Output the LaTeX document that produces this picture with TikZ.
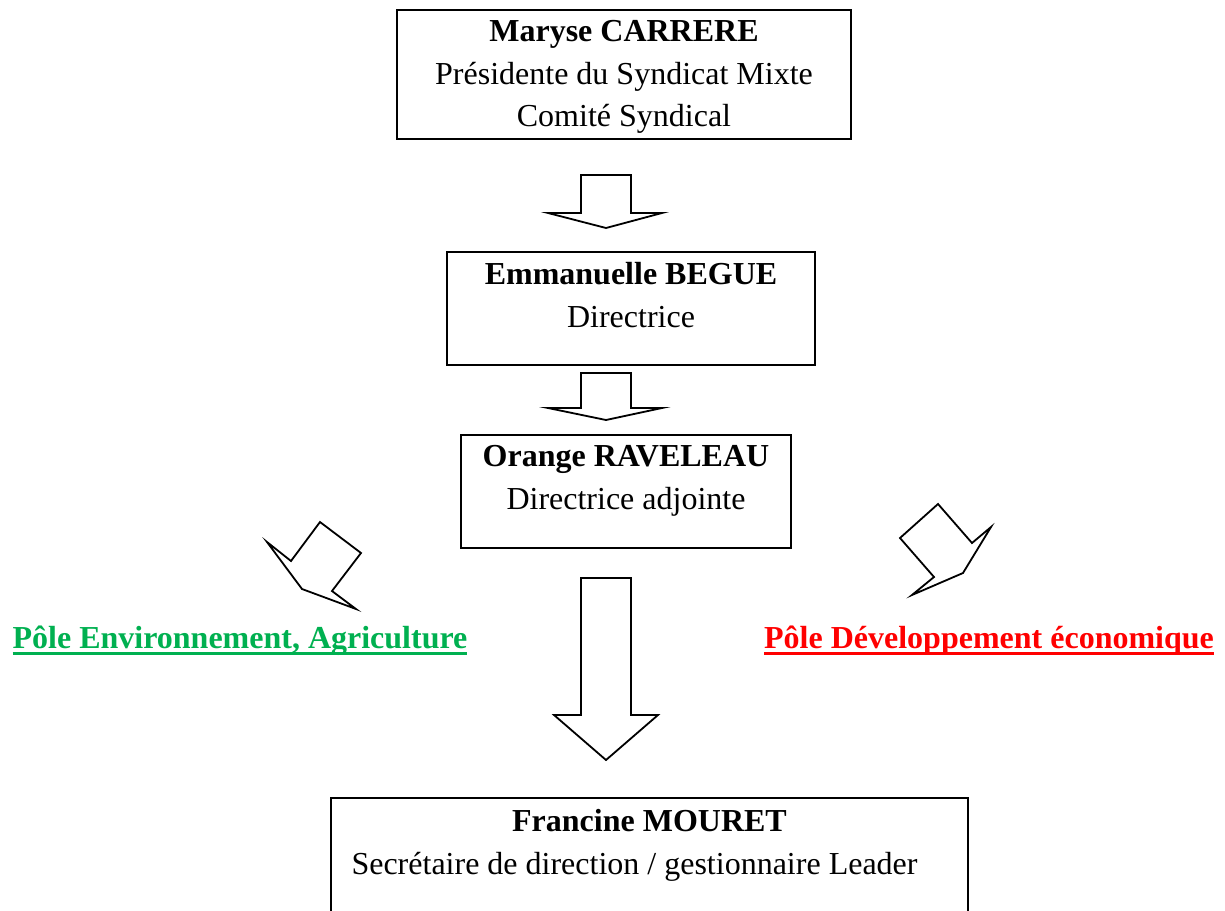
\documentclass[tikz,border=0pt]{standalone}
\usepackage{fontspec}
\setmainfont{Liberation Serif}
\usetikzlibrary{positioning}

\definecolor{polegreen}{RGB}{0,176,80}
\definecolor{polered}{RGB}{255,0,0}

% underline like the word processor draws it
\newcommand{\ulpole}[1]{\setbox0\hbox{#1}\rlap{\rule[-3.25pt]{\wd0}{1.5pt}}\box0}

\begin{document}
\begin{tikzpicture}[
    x=0.5pt, y=-0.5pt,
    box/.style={draw, line width=1pt, inner sep=0pt},
    boxtext/.style={align=center, inner sep=0pt, font=\fontsize{16}{21.25}\selectfont},
    pole/.style={anchor=base, inner sep=0pt, font=\fontsize{16}{21.25}\selectfont\bfseries},
    blockarrow/.style={draw, line width=0.9pt, line join=miter, fill=white}
]
    \clip (0,0) rectangle (1225,910);

    \node[box, minimum width=227pt, minimum height=64.5pt] (carrere) at (624,74.5) {};
    \node[boxtext, below=5.5pt of carrere.north] (carrere-txt)
        {\textbf{Maryse CARRERE}\\Présidente du Syndicat Mixte\\Comité Syndical};

    \node[box, minimum width=184pt, minimum height=56.5pt] (begue) at (631,308.5) {};
    \node[boxtext, below=5.5pt of begue.north] (begue-txt)
        {\textbf{Emmanuelle BEGUE}\\Directrice};

    \node[box, minimum width=165pt, minimum height=56.5pt] (raveleau) at (626,491.5) {};
    \node[boxtext, below=5.5pt of raveleau.north] (raveleau-txt)
        {\textbf{Orange RAVELEAU}\\Directrice adjointe};

    \node[box, minimum width=318.5pt, minimum height=71pt] (mouret) at (649.5,869) {};
    \node[boxtext, below=6pt of mouret.north] (mouret-txt)
        {\textbf{Francine MOURET}\\Secrétaire de direction / gestionnaire Leader\hspace*{15pt}};

    \node[pole, text=polegreen] (pole-env) at (240,648)
        {\ulpole{Pôle Environnement, Agriculture}};
    \node[pole, text=polered] (pole-eco) at (989,648)
        {\ulpole{Pôle Développement économique}};

    % block arrows
    \draw[blockarrow] (581,175) -- (631,175) -- (631,213) -- (662,213)
        -- (606,228) -- (548,213) -- (581,213) -- cycle;
    \draw[blockarrow] (581,373) -- (631,373) -- (631,408) -- (662,408)
        -- (606,420) -- (548,408) -- (581,408) -- cycle;
    \draw[blockarrow] (581,578) -- (631,578) -- (631,715) -- (658,715)
        -- (606,760) -- (554,715) -- (581,715) -- cycle;
    \draw[blockarrow] (320,522) -- (361,553) -- (332,591) -- (356,609)
        -- (302,589) -- (267,542) -- (291,561) -- cycle;
    \draw[blockarrow] (938,504) -- (972,543) -- (991,527) -- (963,573)
        -- (912,595) -- (934,577) -- (900,538) -- cycle;
\end{tikzpicture}
\end{document}
